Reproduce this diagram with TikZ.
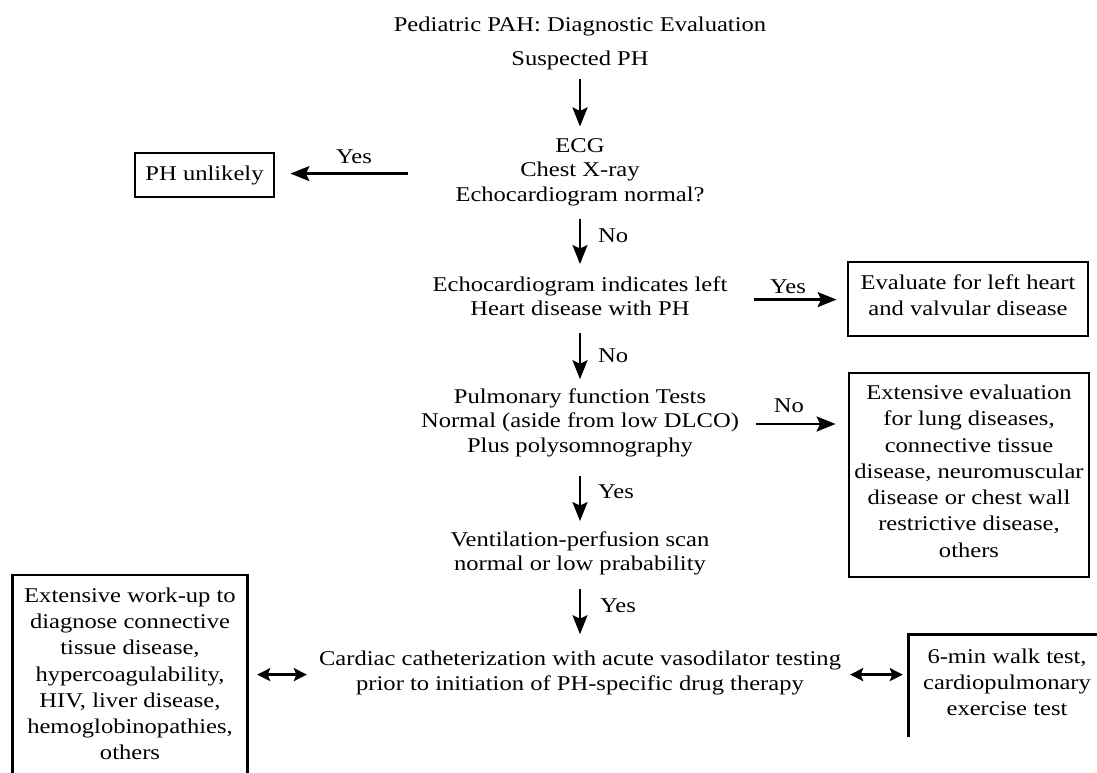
\documentclass[tikz,border=0pt]{standalone}
\usepackage{fontspec}
\setmainfont{Liberation Serif}[FakeStretch=1.17]
\usetikzlibrary{arrows.meta}

\begin{document}
\begin{tikzpicture}[x=1pt,y=-1pt,
    txt/.style={align=center,inner sep=0pt,font=\fontsize{21}{24.5}\selectfont,
      execute at begin node=\strut,execute at end node=\strut},
    boxtxt/.style={txt,font=\fontsize{21}{26.3}\selectfont},
    boxed/.style={boxtxt,draw,line width=2.8pt},
    boxline/.style={line width=2.8pt},
    lbl/.style={inner sep=0pt,font=\fontsize{21}{24.5}\selectfont},
    flow/.style={line width=2.4pt,-{Stealth[length=19pt,width=15pt,inset=3.5pt]}},
    both/.style={line width=2.4pt,{Stealth[length=13pt,width=13pt,inset=2.5pt]}-{Stealth[length=13pt,width=13pt,inset=2.5pt]}}]
  \useasboundingbox (0,0) rectangle (1097,773);

  % main column
  \node[txt] (title) at (580,27) {Pediatric PAH: Diagnostic Evaluation};
  \node[txt] (susp) at (580,61) {Suspected PH};
  \node[txt] (ecg) at (580,173.6) {ECG\\Chest X-ray\\Echocardiogram normal?};
  \node[txt] (lefthd) at (580,299.6) {Echocardiogram indicates left\\Heart disease with PH};
  \node[txt] (pft) at (580,424) {Pulmonary function Tests\\Normal (aside from low DLCO)\\Plus polysomnography};
  \node[txt] (vq) at (580,554.6) {Ventilation-perfusion scan\\normal or low prabability};
  \node[txt] (cath) at (580,674.6) {Cardiac catheterization with acute vasodilator testing\\prior to initiation of PH-specific drug therapy};

  % side boxes
  \node[boxed,minimum width=139,minimum height=44] (unlikely) at (204.5,175) {PH unlikely};
  \node[boxed,minimum width=240,minimum height=74] (heart) at (968,299) {Evaluate for left heart\\and valvular disease};
  \node[boxed,minimum width=240,minimum height=204] (lung) at (969,475) {Extensive evaluation\\for lung diseases,\\connective tissue\\disease, neuromuscular\\disease or chest wall\\restrictive disease,\\others};
  \node[boxtxt,minimum width=234,minimum height=205,anchor=north] (workup) at (130,575) {Extensive work-up to\\diagnose connective\\tissue disease,\\hypercoagulability,\\HIV, liver disease,\\hemoglobinopathies,\\others};
  \draw[boxline] (workup.south west) -- (workup.north west) -- (workup.north east) -- (workup.south east);
  \node[boxtxt,minimum width=196,minimum height=102] (walk) at (1007,686) {6-min walk test,\\cardiopulmonary\\exercise test};
  \draw[boxline] (walk.south west) -- (walk.north west) -- (walk.north east);

  % arrows down
  \draw[flow,shorten <=5.6pt,shorten >=11.8pt] (susp) -- (ecg);
  \draw[flow,shorten <=9.6pt,shorten >=12pt] (ecg) -- (lefthd);
  \draw[flow,shorten <=10pt,shorten >=9pt] (lefthd) -- (pft);
  \draw[flow,shorten <=16pt,shorten >=10pt] (pft) -- (vq);
  \draw[flow,shorten <=11pt,shorten >=17pt] (vq) -- (cath);
  \node[lbl,anchor=base west] (no1) at (598,242) {No};
  \node[lbl,anchor=base west] (no2) at (598,362) {No};
  \node[lbl,anchor=base west] (yes3) at (598,498) {Yes};
  \node[lbl,anchor=base west] (yes4) at (600,612) {Yes};

  % arrows sideways
  \draw[flow,shorten <=47pt,shorten >=15pt] (ecg.west) -- (ecg.west -| unlikely.east);
  \draw[flow,shorten <=26pt,shorten >=10pt] (lefthd.east) -- (lefthd.east -| heart.west);
  \draw[flow,shorten <=17pt,shorten >=12pt] (pft.east) -- (pft.east -| lung.west);
  \node[lbl,anchor=base] (yes1) at (354,163) {Yes};
  \node[lbl,anchor=base] (yes2) at (788,293) {Yes};
  \node[lbl,anchor=base] (no3) at (789,412) {No};

  \draw[both,shorten <=12pt,shorten >=10pt] (cath.west) -- (cath.west -| workup.east);
  \draw[both,shorten <=9pt,shorten >=6pt] (cath.east) -- (cath.east -| walk.west);
\end{tikzpicture}
\end{document}
